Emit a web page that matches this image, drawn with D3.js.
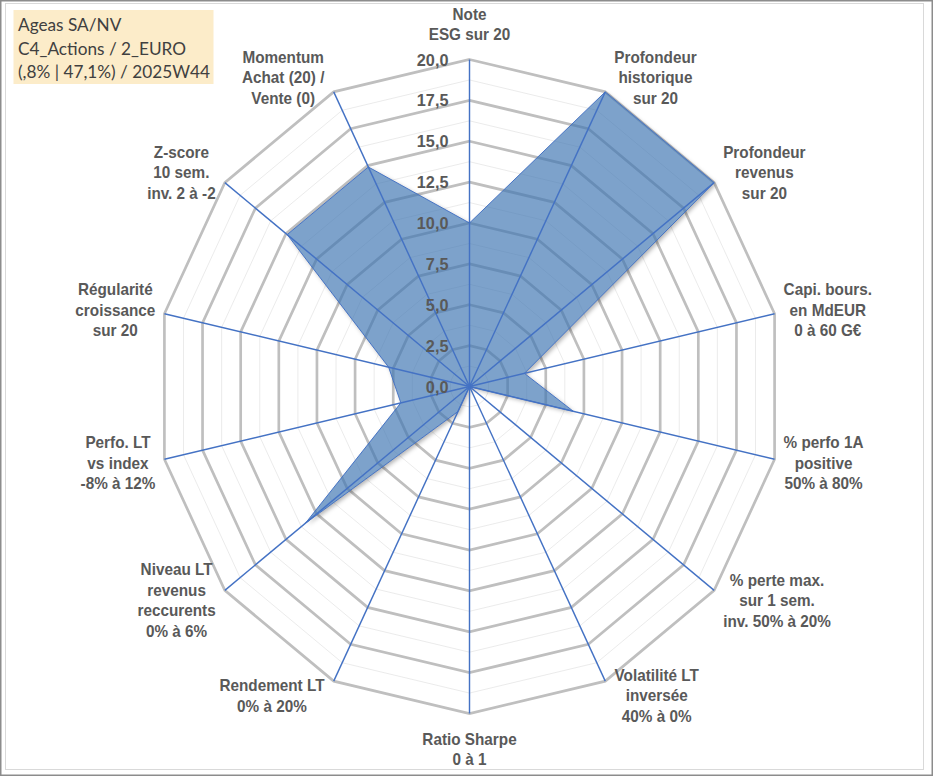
<!DOCTYPE html>
<html>
<head>
<meta charset="utf-8">
<script src="https://cdn.jsdelivr.net/npm/d3@7"></script>
<style>
  body { margin: 0; background: #fff; }
  svg { display: block; }
</style>
</head>
<body>
<div id="chart"></div>
<script>
// axes of the radar, clockwise from the top
var categories = [
  ["Note", "ESG sur 20"],
  ["Profondeur", "historique", "sur 20"],
  ["Profondeur", "revenus", "sur 20"],
  ["Capi. bours.", "en MdEUR", "0 à 60 G€"],
  ["% perfo 1A", "positive", "50% à 80%"],
  ["% perte max.", "sur 1 sem.", "inv. 50% à 20%"],
  ["Volatilité LT", "inversée", "40% à 0%"],
  ["Ratio Sharpe", "0 à 1"],
  ["Rendement LT", "0% à 20%"],
  ["Niveau LT", "revenus", "reccurents", "0% à 6%"],
  ["Perfo. LT", "vs index", "-8% à 12%"],
  ["Régularité", "croissance", "sur 20"],
  ["Z-score", "10 sem.", "inv. 2 à -2"],
  ["Momentum", "Achat (20) /", "Vente (0)"]
];
var values = [10, 20, 20, 3.6, 6.8, 0, 0, 0, 1.7, 13.4, 4.5, 5.3, 14.9, 14.9];
var majorTicks = [0, 2.5, 5, 7.5, 10, 12.5, 15, 17.5, 20];
var minorTicks = [1.25, 3.75, 6.25, 8.75, 11.25, 13.75, 16.25, 18.75];
var infoLines = ["Ageas SA/NV", "C4_Actions / 2_EURO", "(,8% | 47,1%) / 2025W44"];

var width = 933, height = 776;
var sx = 0.957;                 // picture is slightly squeezed horizontally
var cx = 469.5 / sx, cy = 386.5, R = 327;

var svg = d3.select("#chart").append("svg")
    .attr("width", width)
    .attr("height", height);

var angle = d3.scaleLinear().domain([0, categories.length]).range([0, 2 * Math.PI]);
var r = d3.scaleLinear().domain([0, 20]).range([0, R]);

var area = d3.lineRadial()
    .angle(function(d, i) { return angle(i); })
    .radius(function(d) { return r(d); })
    .curve(d3.curveLinearClosed);

var defs = svg.append("defs");
var blur = defs.append("filter").attr("id", "blur")
    .attr("x", "-10%").attr("y", "-10%").attr("width", "120%").attr("height", "120%");
blur.append("feGaussianBlur").attr("stdDeviation", 2);

// mask so the shadow only shows outside the (transparent) series fill
var mask = defs.append("mask").attr("id", "outside")
    .attr("maskUnits", "userSpaceOnUse")
    .attr("x", -1000).attr("y", -1000).attr("width", 3000).attr("height", 3000);
mask.append("rect")
    .attr("x", -1000).attr("y", -1000).attr("width", 3000).attr("height", 3000)
    .attr("fill", "#fff");
mask.append("path")
    .datum(values)
    .attr("d", area)
    .attr("fill", "#000");

// frames
svg.append("rect")
    .attr("x", 0.75).attr("y", 0.75).attr("width", width - 1.5).attr("height", height - 1.5)
    .attr("fill", "none").attr("stroke", "#8c8c8c").attr("stroke-width", 1.5);
svg.append("rect")
    .attr("x", 5.5).attr("y", 3.5).attr("width", 918).attr("height", 766)
    .attr("fill", "none").attr("stroke", "#d9d9d9").attr("stroke-width", 1);

var root = svg.append("g").attr("transform", "scale(" + sx + ",1)");
var plot = root.append("g").attr("transform", "translate(" + cx + "," + cy + ")");

function ringPath(level) {
  return d3.lineRadial()
    .angle(function(d, i) { return angle(i); })
    .radius(function() { return r(level); })
    .curve(d3.curveLinearClosed)(categories);
}

// minor rings
plot.selectAll(".minor").data(minorTicks).enter()
  .append("path")
    .attr("class", "minor")
    .attr("d", function(d) { return ringPath(d); })
    .attr("fill", "none")
    .attr("stroke", "#ebebeb")
    .attr("stroke-width", 1);

// major rings
plot.selectAll(".major").data(majorTicks.filter(function(d) { return d > 0; })).enter()
  .append("path")
    .attr("class", "major")
    .attr("d", function(d) { return ringPath(d); })
    .attr("fill", "none")
    .attr("stroke", "#bfbfbf")
    .attr("stroke-width", 2.8);

// series shadow + fill
plot.append("g")
    .attr("mask", "url(#outside)")
  .append("path")
    .datum(values)
    .attr("d", area)
    .attr("transform", "translate(2,2)")
    .attr("fill", "#000")
    .attr("fill-opacity", 0.3)
    .attr("filter", "url(#blur)");

plot.append("path")
    .datum(values)
    .attr("d", area)
    .attr("fill", "rgb(64,118,178)")
    .attr("fill-opacity", 0.68)
    .attr("stroke", "#4472c4")
    .attr("stroke-width", 1);

// spokes
plot.selectAll(".spoke").data(categories).enter()
  .append("line")
    .attr("class", "spoke")
    .attr("x1", 0).attr("y1", 0)
    .attr("x2", function(d, i) { return r(20) * Math.sin(angle(i)); })
    .attr("y2", function(d, i) { return -r(20) * Math.cos(angle(i)); })
    .attr("stroke", "#4472c4")
    .attr("stroke-width", 1.5);

// tick labels along the top spoke
var fmt = d3.format(".1f");
plot.selectAll(".tick").data(majorTicks).enter()
  .append("text")
    .attr("class", "tick")
    .attr("x", -22)
    .attr("y", function(d) { return -r(d); })
    .attr("dy", "0.36em")
    .attr("text-anchor", "end")
    .style("font-family", "'Liberation Sans', Arial, sans-serif")
    .style("font-weight", "bold")
    .style("font-size", "17px")
    .style("fill", "#595959")
    .text(function(d) { return fmt(d).replace(".", ","); });

// category labels
var lineH = 20.5;
var labels = plot.selectAll(".cat").data(categories).enter()
  .append("text")
    .attr("class", "cat")
    .attr("text-anchor", "middle")
    .style("font-family", "'Liberation Sans', Arial, sans-serif")
    .style("font-weight", "bold")
    .style("font-size", "16px")
    .style("fill", "#595959");

labels.each(function(d, i) {
  var t = d3.select(this);
  d.forEach(function(line) {
    t.append("tspan").attr("x", 0).text(line);
  });
  var w = this.getBBox().width;
  var h = d.length * lineH;
  var a = angle(i), s = Math.sin(a), c = Math.cos(a);
  var vx = r(20) * s, vy = -r(20) * c;
  var px, py;
  if (Math.abs(s) > 0.05) {
    px = vx + Math.sign(s) * (w / 2 + 9 / sx);
    py = vy - c * 16;
  } else {
    px = vx;
    py = vy - c * (h / 2 + 15);
  }
  t.selectAll("tspan")
    .attr("x", px)
    .attr("y", function(line, j) { return py + (j - (d.length - 1) / 2) * lineH; })
    .attr("dy", "0.36em");
});

// info box
var info = root.append("g");
info.append("rect")
    .attr("x", 13.5 / sx).attr("y", 10)
    .attr("width", 200 / sx).attr("height", 74)
    .attr("fill", "#fcecc9");
info.selectAll("text").data(infoLines).enter()
  .append("text")
    .attr("x", 18 / sx)
    .attr("y", function(d, i) { return 25 + i * 23.5; })
    .attr("dy", "0.36em")
    .style("font-family", "Lato, 'Open Sans', sans-serif")
    .style("font-size", "18px")
    .style("fill", "#404040")
    .text(function(d) { return d; });
</script>
</body>
</html>
